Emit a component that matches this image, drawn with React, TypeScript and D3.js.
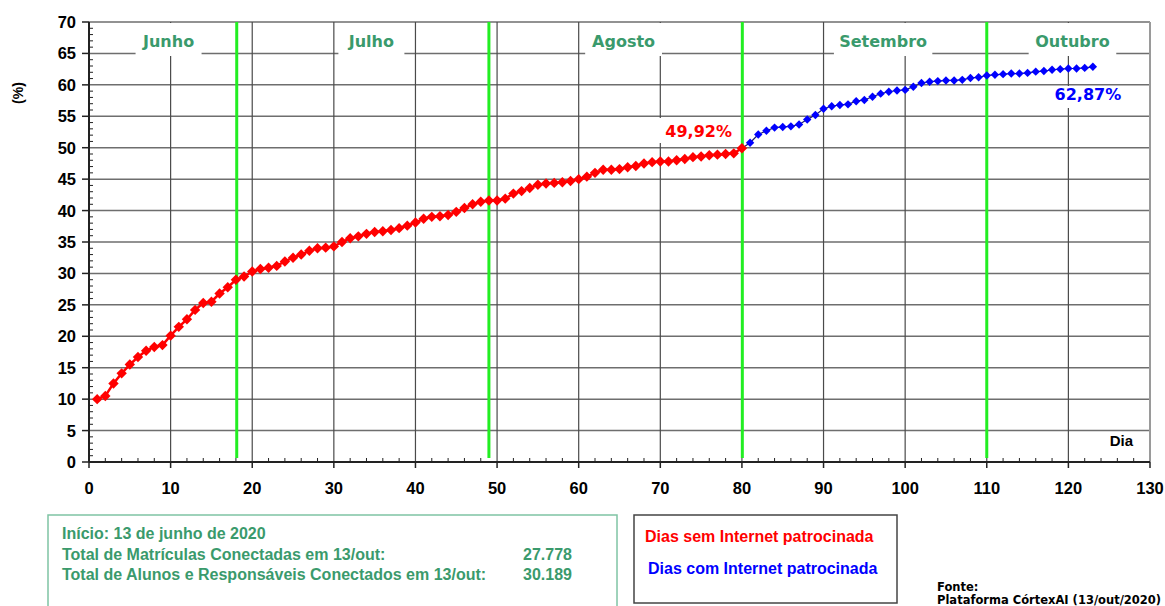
import React from "react";
import * as d3 from "d3";

// ---- data ----
const redStartDay = 1;
const redValues = [
  10.0, 10.5, 12.5, 14.1, 15.5, 16.7, 17.7, 18.3, 18.6, 20.1,
  21.5, 22.7, 24.2, 25.3, 25.5, 26.8, 27.8, 29.0, 29.5, 30.3,
  30.7, 30.9, 31.2, 31.9, 32.5, 33.0, 33.6, 34.0, 34.1, 34.3,
  35.0, 35.6, 35.9, 36.3, 36.6, 36.7, 36.9, 37.2, 37.6, 38.1,
  38.7, 39.0, 39.1, 39.3, 39.8, 40.4, 41.0, 41.4, 41.6, 41.6,
  41.9, 42.7, 43.1, 43.6, 44.1, 44.3, 44.4, 44.5, 44.7, 45.0,
  45.4, 46.0, 46.5, 46.5, 46.6, 46.9, 47.1, 47.5, 47.7, 47.8,
  47.8, 48.0, 48.2, 48.5, 48.6, 48.8, 48.9, 49.0, 49.1, 49.92,
];
const blueStartDay = 81;
const blueValues = [
  50.8, 52.1, 52.7, 53.2, 53.3, 53.4, 53.7, 54.5, 55.2, 56.2,
  56.6, 56.8, 56.9, 57.4, 57.6, 58.1, 58.6, 58.9, 59.1, 59.2,
  59.7, 60.3, 60.5, 60.6, 60.7, 60.7, 60.8, 61.1, 61.2, 61.5,
  61.6, 61.7, 61.8, 61.8, 61.9, 62.1, 62.2, 62.4, 62.5, 62.6,
  62.6, 62.7, 62.87,
];
const monthNames = ["Junho", "Julho", "Agosto", "Setembro", "Outubro"];
const monthLabelDays = [9.75, 34.6, 65.5, 97.3, 120.5];
const monthBoundaries = [18.1, 49.0, 80.05, 110.0];
const xTicks = [0, 10, 20, 30, 40, 50, 60, 70, 80, 90, 100, 110, 120, 130];
const yTicks = [0, 5, 10, 15, 20, 25, 30, 35, 40, 45, 50, 55, 60, 65, 70];
const redLabel = "49,92%";
const blueLabel = "62,87%";
const infoLines = [
  "Início: 13 de junho de 2020",
  "Total de Matrículas Conectadas em 13/out:",
  "Total de Alunos e Responsáveis Conectados em 13/out:",
];
const infoValues = ["", "27.778", "30.189"];
const legendLabels = ["Dias sem Internet patrocinada", "Dias com Internet patrocinada"];

const W = 1165;
const H = 606;
const L = 89, R = 1150, T = 22, B = 462;

const GREEN_TEXT = "#3a9a6c";
const ARIAL = "'Liberation Sans', Arial, sans-serif";
const VERDANA = "'DejaVu Sans', Verdana, sans-serif";

function diamond(r: number) {
  return `M0,${-r}L${r},0L0,${r}L${-r},0Z`;
}

export default function App() {
  const x = d3.scaleLinear().domain([0, 130]).range([L, R]);
  const y = d3.scaleLinear().domain([0, 70]).range([B, T]);

  const red = redValues.map((v, i) => ({ d: redStartDay + i, v }));
  const blue = blueValues.map((v, i) => ({ d: blueStartDay + i, v }));
  const blueWithJoin = [red[red.length - 1], ...blue];

  const line = d3
    .line<{ d: number; v: number }>()
    .x((p) => x(p.d))
    .y((p) => y(p.v));

  const minorX = d3.range(0, 131, 2).filter((v) => v % 10 !== 0);
  const minorY = d3.range(0, 71, 1).filter((v) => v % 5 !== 0);

  const lastRed = red[red.length - 1];
  const lastBlue = blue[blue.length - 1];

  return (
    <svg
      width={W}
      height={H}
      style={{ position: "absolute", left: 0, top: 0, background: "#fff" }}
    >
      <rect x={0} y={0} width={W} height={H} fill="#fff" />
      {/* horizontal grid */}
      {yTicks.map((t) => (
        <line key={"hg" + t} x1={L} x2={R} y1={y(t)} y2={y(t)} stroke="#6e6e6e" strokeWidth={1.5} />
      ))}
      {/* vertical grid */}
      {xTicks.map((t) => (
        <line key={"vg" + t} x1={x(t)} x2={x(t)} y1={T} y2={B} stroke={t === 130 ? "#9a9a9a" : "#4a4a4a"} strokeWidth={t === 130 ? 2 : 1.2} />
      ))}

      {/* month labels with white background */}
      {monthNames.map((m, i) => {
        const cx = x(monthLabelDays[i]);
        const w = m.length * 10.8 + 12;
        return (
          <g key={m}>
            <rect x={cx - w / 2} y={T + 1} width={w} height={33} fill="#fff" />
            <text
              x={cx}
              y={47}
              textAnchor="middle"
              fontFamily={VERDANA}
              fontWeight="bold"
              fontSize={16}
              fill={GREEN_TEXT}
            >
              {m}
            </text>
          </g>
        );
      })}

      {/* value labels */}
      <rect x={x(lastRed.d) - 86} y={118} width={86} height={25} fill="#fff" />
      <text x={x(lastRed.d) - 10} y={137} textAnchor="end" fontFamily={VERDANA} fontWeight="bold" fontSize={16} fill="#ff0000">
        {redLabel}
      </text>
      <rect x={x(lastBlue.d) - 48} y={86} width={90} height={22} fill="#fff" />
      <text x={x(lastBlue.d) - 5} y={100} textAnchor="middle" fontFamily={VERDANA} fontWeight="bold" fontSize={16} fill="#0000ff">
        {blueLabel}
      </text>

      {/* Dia label */}
      <text x={1133} y={446} textAnchor="end" fontFamily={ARIAL} fontWeight="bold" fontSize={15} fill="#000">
        Dia
      </text>

      {/* month boundaries */}
      {monthBoundaries.map((b) => (
        <line key={"mb" + b} x1={x(b)} x2={x(b)} y1={T} y2={B - 4} stroke="#22ee22" strokeWidth={3} />
      ))}

      {/* axes */}
      <line x1={L} x2={R} y1={B} y2={B} stroke="#222" strokeWidth={2} />
      <line x1={L} x2={L} y1={T} y2={B} stroke="#222" strokeWidth={2} />
      {xTicks.map((t) => (
        <line key={"xt" + t} x1={x(t)} x2={x(t)} y1={B} y2={B + 6} stroke="#222" strokeWidth={1.5} />
      ))}
      {minorX.map((t) => (
        <line key={"xm" + t} x1={x(t)} x2={x(t)} y1={B} y2={B - 4} stroke="#222" strokeWidth={1} />
      ))}
      {yTicks.map((t) => (
        <line key={"yt" + t} x1={L - 7} x2={L} y1={y(t)} y2={y(t)} stroke="#222" strokeWidth={1.5} />
      ))}
      {minorY.map((t) => (
        <line key={"ym" + t} x1={L} x2={L + 4} y1={y(t)} y2={y(t)} stroke="#222" strokeWidth={1} />
      ))}
      {xTicks.map((t) => (
        <text key={"xl" + t} x={x(t)} y={494} textAnchor="middle" fontFamily={ARIAL} fontWeight="bold" fontSize={16.5} fill="#000">
          {t}
        </text>
      ))}
      {yTicks.map((t) => (
        <text key={"yl" + t} x={76} y={y(t) + 6} textAnchor="end" fontFamily={ARIAL} fontWeight="bold" fontSize={16.5} fill="#000">
          {t}
        </text>
      ))}
      <text
        transform={`translate(23,${93}) rotate(-90)`}
        textAnchor="middle"
        fontFamily={ARIAL}
        fontWeight="bold"
        fontSize={14}
        fill="#000"
      >
        (%)
      </text>

      {/* series */}
      <path d={line(red) || ""} fill="none" stroke="#ff0000" strokeWidth={2.5} />
      <path d={line(blueWithJoin) || ""} fill="none" stroke="#1a1a70" strokeWidth={1.2} />
      {blue.map((p) => (
        <path key={"b" + p.d} d={diamond(4.2)} transform={`translate(${x(p.d)},${y(p.v)})`} fill="#0000ff" />
      ))}
      {red.map((p) => (
        <path key={"r" + p.d} d={diamond(5.2)} transform={`translate(${x(p.d)},${y(p.v)})`} fill="#ff0000" />
      ))}

      {/* info box */}
      <rect x={48} y={515} width={569} height={100} fill="none" stroke="#7fc4a4" strokeWidth={1.5} />
      {infoLines.map((s, i) => (
        <text key={"il" + i} x={62} y={539 + i * 20.5} fontFamily={ARIAL} fontWeight="bold" fontSize={16} fill={GREEN_TEXT}>
          {s}
        </text>
      ))}
      {infoValues.map((s, i) => (
        <text key={"iv" + i} x={572} y={539 + i * 20.5} textAnchor="end" fontFamily={ARIAL} fontWeight="bold" fontSize={16} fill={GREEN_TEXT}>
          {s}
        </text>
      ))}

      {/* legend box */}
      <rect x={634} y={515} width={263} height={88} fill="none" stroke="#444" strokeWidth={1.5} />
      <text x={645} y={542} fontFamily={ARIAL} fontWeight="bold" fontSize={16} fill="#ff0000">
        {legendLabels[0]}
      </text>
      <text x={648} y={574} fontFamily={ARIAL} fontWeight="bold" fontSize={16} fill="#0000ff">
        {legendLabels[1]}
      </text>

      {/* source */}
      <text x={937} y={591} fontFamily={VERDANA} fontWeight="bold" fontSize={11.5} fill="#000">
        Fonte:
      </text>
      <text x={937} y={604} fontFamily={VERDANA} fontWeight="bold" fontSize={11.5} fill="#000">
        Plataforma CórtexAI (13/out/2020)
      </text>
    </svg>
  );
}
